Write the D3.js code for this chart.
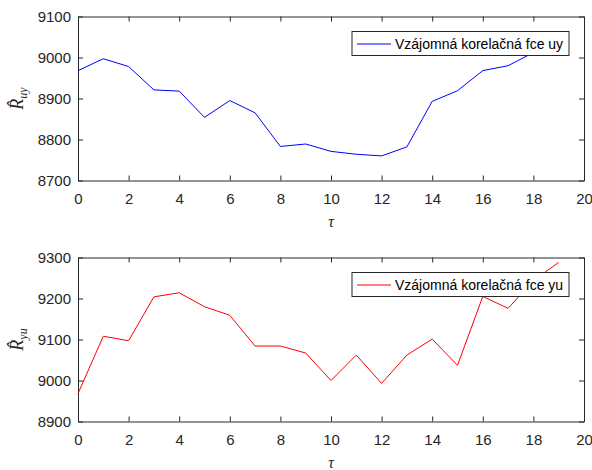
<!DOCTYPE html>
<html>
<head>
<meta charset="utf-8">
<script src="https://cdn.jsdelivr.net/npm/d3@7"></script>
<style>
  body { margin: 0; background: #fff; }
  svg { display: block; }
  .tick text { font-family: Arial, "Liberation Sans", sans-serif; font-size: 15px; fill: #262626; }
  .domain, .tick line { stroke: #262626; }
  .legend text { font-family: Arial, "Liberation Sans", sans-serif; font-size: 14px; fill: #000; }
  .math { font-family: "Liberation Serif", "DejaVu Serif", serif; font-style: italic; fill: #262626; }
</style>
</head>
<body>
<div id="chart"></div>
<script>
// lag values (tau)
const lags = d3.range(0, 20);

// cross-correlation estimates
const ruy = [8968, 8997, 8978, 8921, 8918, 8854, 8895, 8865, 8783, 8789,
             8771, 8764, 8760, 8782, 8893, 8919, 8968, 8980, 9012, 9035];
const ryu = [8968, 9108, 9097, 9204, 9214, 9180, 9159, 9084, 9084, 9067,
             9000, 9062, 8993, 9062, 9101, 9037, 9205, 9176, 9244, 9288];

const xTicks = d3.range(0, 21, 2);
const yTicksTop = [8700, 8800, 8900, 9000, 9100];
const yTicksBottom = [8900, 9000, 9100, 9200, 9300];

const width = 592, height = 470;
const plotLeft = 78, plotW = 506, plotH = 164;

const svg = d3.select("#chart").append("svg")
    .attr("width", width)
    .attr("height", height);

function drawPanel(top, values, yTicks, color, sub, legendText) {
    let g = svg.append("g").attr("transform", "translate(" + plotLeft + "," + top + ")");

    let x = d3.scaleLinear().domain([0, 20]).range([0, plotW]);
    let y = d3.scaleLinear().domain([yTicks[0], yTicks[yTicks.length - 1]]).range([plotH, 0]);

    // box + inward ticks on all four sides
    g.append("g").attr("transform", "translate(0," + plotH + ")")
        .call(d3.axisBottom(x).tickValues(xTicks).tickSize(-5).tickSizeOuter(0).tickPadding(13));
    g.append("g")
        .call(d3.axisTop(x).tickValues(xTicks).tickSize(-5).tickSizeOuter(0).tickFormat(""));
    g.append("g")
        .call(d3.axisLeft(y).tickValues(yTicks).tickSize(-5).tickSizeOuter(0).tickPadding(7)
            .tickFormat(d3.format("d")));
    g.append("g").attr("transform", "translate(" + plotW + ",0)")
        .call(d3.axisRight(y).tickValues(yTicks).tickSize(-5).tickSizeOuter(0).tickFormat(""));

    g.append("path")
        .datum(values)
        .attr("fill", "none")
        .attr("stroke", color)
        .attr("stroke-width", 1)
        .attr("d", d3.line().x((d, i) => x(lags[i])).y(d => y(d)));

    // x label
    g.append("text")
        .attr("class", "math")
        .attr("x", plotW / 2)
        .attr("y", plotH + 46)
        .attr("text-anchor", "middle")
        .style("font-size", "16px")
        .text("\u03c4");

    // y label
    let yl = g.append("text")
        .attr("class", "math")
        .attr("transform", "translate(" + (-55) + "," + (plotH / 2) + ") rotate(-90)")
        .attr("text-anchor", "middle")
        .style("font-size", "18px");
    yl.append("tspan").text("R\u0302");
    yl.append("tspan").attr("dy", 4).style("font-size", "12px").text(sub);

    // legend
    let lg = g.append("g").attr("class", "legend")
        .attr("transform", "translate(" + (plotW - 15 - 217) + ",15)");
    lg.append("rect")
        .attr("width", 217).attr("height", 24)
        .attr("fill", "#fff")
        .attr("stroke", "#262626")
        .attr("stroke-width", 1);
    lg.append("line")
        .attr("x1", 5).attr("x2", 39)
        .attr("y1", 12.5).attr("y2", 12.5)
        .attr("stroke", color).attr("stroke-width", 1);
    lg.append("text")
        .attr("x", 43).attr("y", 17)
        .text(legendText);
}

drawPanel(16.5, ruy, yTicksTop, "#0000ff", "uy", "Vzájomná korelačná fce uy");
drawPanel(257.5, ryu, yTicksBottom, "#ff0000", "yu", "Vzájomná korelačná fce yu");
</script>
</body>
</html>
